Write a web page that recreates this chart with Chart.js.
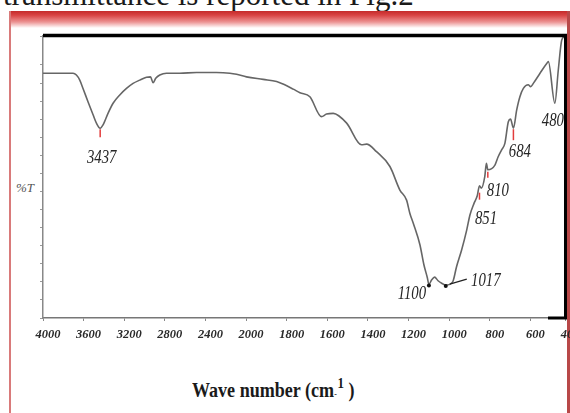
<!DOCTYPE html>
<html>
<head>
<meta charset="utf-8">
<script src="https://cdn.jsdelivr.net/npm/chart.js@4.4.1/dist/chart.umd.min.js"></script>
<style>
html,body{margin:0;padding:0;background:#fff;}
#wrap{position:relative;width:570px;height:413px;overflow:hidden;background:#fff;}
#graph{position:absolute;left:0;top:0;}
.cap{position:absolute;left:3px;top:-21px;font:31px/31px "Liberation Serif",serif;color:#1a1a1a;white-space:nowrap;}
.band{position:absolute;left:9px;top:11px;width:561px;height:17px;background:linear-gradient(#c42a2a 0%,#d94444 25%,#ec9494 65%,#fff 100%);}
.lft{position:absolute;left:9px;top:11px;width:2px;height:402px;background:#d97a7a;}
.rgt{position:absolute;left:567px;top:11px;width:3px;height:402px;background:#b84848;}
.ylab{position:absolute;left:16px;top:181px;font:italic 13px/13px "Liberation Serif",serif;color:#555;}
.xlab{position:absolute;left:192px;top:380px;font:bold 21px/21px "Liberation Serif",serif;color:#1a1a1a;white-space:nowrap;transform:scaleX(.86);transform-origin:0 0;}
.xlab .m{font-size:9px;}
.xlab .s{font-size:15px;position:relative;top:-9px;margin-left:1px;}
</style>
</head>
<body>
<div id="wrap">
  <div class="cap">transmittance is reported in Fig.2</div>
  <div class="band"></div>
  <div class="lft"></div>
  <div class="rgt"></div>
  <div class="ylab">%T</div>
  <div class="xlab">Wave number (cm<span class="m">-</span><span class="s">1</span> )</div>
  <canvas id="graph" width="570" height="413"></canvas>
</div>
<script>
// spectrum (cm-1, %T in plot units)
const wavenumbers=[4000,3983,3704,3671,3638,3606,3557,3507,3474,3437,3409,3360,3310,3244,3178,3113,3047,2981,2942,2916,2890,2850,2784,2653,2489,2292,2160,2094,1998,1916,1850,1818,1768,1735,1686,1629,1604,1571,1505,1432,1407,1358,1292,1243,1210,1194,1177,1144,1125,1108,1100,1087,1072,1055,1037,1017,983,964,939,914,898,878,862,851,842,825,817,810,775,759,742,726,709,698,684,668,652,635,611,599,586,553,520,512,480,463,446,432]
const transmittance=[67.7,67.7,67.7,67.2,65.8,63.5,59.8,56.2,53.9,52.5,53.4,56.6,59.4,61.7,63.5,64.9,65.8,66.6,66.7,65.1,66.3,67.2,67.7,67.7,67.9,67.9,67.7,67.4,66.7,66.0,65.4,64.7,63.3,62.3,61.2,55.7,56.4,56.6,53.9,47.9,48.1,46.0,41.9,35.4,32.6,29.0,26.2,20.2,14.8,11.2,9.3,10.5,11.3,10.3,9.6,9.1,10.0,14.2,18.8,24.3,28.5,31.7,33.8,36.6,35.9,39.1,42.8,41.0,42.3,44.6,46.5,48.3,54.3,55.0,52.5,57.5,61.2,63.5,64.5,64.0,64.9,67.7,70.4,70.9,59.4,68.6,76.9,77.8]
const tickLabels=['4000','3600','3200','2800','2400','2000','1800','1600','1400','1200','1000','800','600','400']
const peaks=[3437,1100,1017,851,810,684,480]
const axisEnd=430

// scale change at 2000 cm-1: 400 per division above, 200 below
function toPos(w){
  return w>=2000 ? (4000-w)/400 : 5+(2000-w)/200
}
const xMax=toPos(axisEnd)

const points=wavenumbers.map((w,i)=>({x:toPos(w),y:transmittance[i]}))

// how each peak is marked on the figure
const peakStyle={
  3437:{mark:'tick',t0:1,t1:9,dx:1.5,dy:35},
  1100:{mark:'dot',dx:-17,dy:15},
  1017:{mark:'dot',lead:true,dx:40,dy:1},
  851:{mark:'tick',t0:7,t1:14,dx:6.5,dy:38},
  810:{mark:'tick',t0:2,t1:8,dx:10,dy:26},
  684:{mark:'tick',t0:1,t1:12,dx:6.5,dy:29},
  480:{mark:'none',dx:-2,dy:23}
}

const frame={
  id:'frame',
  afterDatasetsDraw(chart){
    const ctx=chart.ctx, a=chart.chartArea
    const xs=chart.scales.x, ys=chart.scales.y
    ctx.save()
    ctx.strokeStyle='#000'
    ctx.lineWidth=3.5
    ctx.beginPath(); ctx.moveTo(a.left,35.5); ctx.lineTo(a.right+2,35.5); ctx.stroke()
    ctx.lineWidth=3
    ctx.beginPath(); ctx.moveTo(a.right+0.5,34); ctx.lineTo(a.right+0.5,a.bottom); ctx.stroke()
    ctx.beginPath(); ctx.moveTo(a.right-17,a.bottom); ctx.lineTo(a.right+2,a.bottom); ctx.stroke()

    peaks.forEach(w=>{
      const st=peakStyle[w]
      const i=wavenumbers.indexOf(w)
      const x=xs.getPixelForValue(toPos(w))
      const y=ys.getPixelForValue(transmittance[i])
      if(st.mark==='tick'){
        ctx.strokeStyle='#e23c3c'; ctx.lineWidth=1.5
        ctx.beginPath(); ctx.moveTo(x,y+st.t0); ctx.lineTo(x,y+st.t1); ctx.stroke()
      }
      if(st.mark==='dot'){
        ctx.fillStyle='#111'
        ctx.beginPath(); ctx.arc(x,y+1,2,0,Math.PI*2); ctx.fill()
      }
      if(st.lead){
        ctx.strokeStyle='#222'; ctx.lineWidth=1.2
        ctx.beginPath(); ctx.moveTo(x+4,y-1); ctx.lineTo(x+21,y-6); ctx.stroke()
      }
      ctx.save()
      ctx.translate(x+st.dx,y+st.dy)
      ctx.scale(0.82,1)
      ctx.font='italic 18px "Liberation Serif"'
      ctx.fillStyle='#262626'
      ctx.textAlign='center'
      ctx.textBaseline='alphabetic'
      ctx.fillText(String(w),0,0)
      ctx.restore()
    })
    ctx.restore()
  }
}

const config={
  type:'line',
  data:{
    datasets:[{
      data:points,
      borderColor:'#666',
      borderWidth:1.6,
      pointRadius:0,
      cubicInterpolationMode:'monotone',
      fill:false
    }]
  },
  options:{
    responsive:false,
    animation:false,
    devicePixelRatio:1,
    layout:{padding:{top:36,right:5,left:0,bottom:0}},
    plugins:{legend:{display:false},tooltip:{enabled:false}},
    scales:{
      x:{
        type:'linear',
        min:0,
        max:xMax,
        afterBuildTicks(scale){
          scale.ticks=tickLabels.map(l=>({value:Math.min(toPos(+l),xMax)}))
        },
        afterFit(scale){
          scale.height=95
          scale.paddingLeft=0
          scale.paddingRight=0
        },
        grid:{drawOnChartArea:false,drawTicks:true,tickLength:3,color:'#888',lineWidth:1},
        border:{display:true,color:'#777',width:1.5},
        ticks:{
          autoSkip:false,
          maxRotation:0,
          minRotation:0,
          labelOffset:5,
          padding:6,
          color:'#2a2a2a',
          font:{family:'Liberation Serif',style:'italic',weight:'bold',size:12.5},
          callback:(v,i)=>tickLabels[i]
        }
      },
      y:{
        min:0,
        max:78,
        afterFit(scale){
          scale.width=43
        },
        grid:{drawOnChartArea:false,drawTicks:true,tickLength:3,color:'#999',lineWidth:1},
        border:{display:true,color:'#888',width:1.5},
        ticks:{display:false,stepSize:5}
      }
    }
  },
  plugins:[frame]
}

const myChart=new Chart(document.getElementById('graph'),config)
</script>
</body>
</html>
